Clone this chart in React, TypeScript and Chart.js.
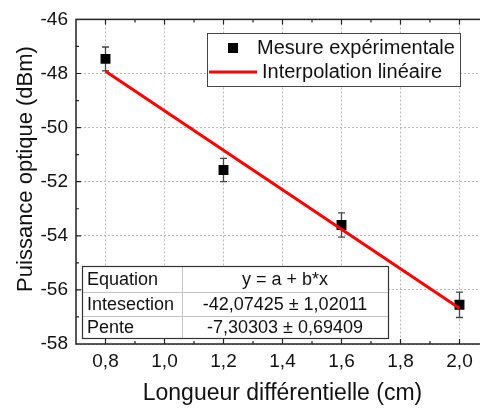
import React, { useEffect, useRef } from "react";
import { Chart, registerables } from "chart.js";
Chart.register(...registerables);

// ---- data ----
const xValues = [0.8, 1.2, 1.6, 2.0];
const yValues = [-47.46, -51.57, -53.6, -56.55];
const yErrors = [0.44, 0.43, 0.45, 0.47];
const fitX = [0.8, 2.0];
const fitY = [-47.92, -56.68];
const xTicks = [0.8, 1.0, 1.2, 1.4, 1.6, 1.8, 2.0];
const yTicks = [-58, -56, -54, -52, -50, -48, -46];
const seriesLabels = ["Mesure expérimentale", "Interpolation linéaire"];
const tableLabels = ["Equation", "Intesection", "Pente"];
const tableValues = ["y = a + b*x", "-42,07425 ± 1,02011", "-7,30303 ± 0,69409"];
const xTitle = "Longueur différentielle (cm)";
const yTitle = "Puissance optique (dBm)";

const FONT = '"Liberation Sans", Arial, sans-serif';
const TEXT = "#111";

const decor = {
  id: "decor",
  beforeDatasetsDraw(chart: any) {
    const { ctx } = chart;
    const xs = chart.scales.x;
    const ys = chart.scales.y;
    ctx.save();
    ctx.strokeStyle = "#444";
    ctx.lineWidth = 1.3;
    xValues.forEach((xv, i) => {
      const px = xs.getPixelForValue(xv);
      const top = ys.getPixelForValue(yValues[i] + yErrors[i]);
      const bot = ys.getPixelForValue(yValues[i] - yErrors[i]);
      ctx.beginPath();
      ctx.moveTo(px, top);
      ctx.lineTo(px, bot);
      ctx.moveTo(px - 3.5, top);
      ctx.lineTo(px + 3.5, top);
      ctx.moveTo(px - 3.5, bot);
      ctx.lineTo(px + 3.5, bot);
      ctx.stroke();
    });
    ctx.restore();
  },
  afterDraw(chart: any) {
    const { ctx, chartArea } = chart;
    const { left, right, top, bottom } = chartArea;
    const xs = chart.scales.x;
    const ys = chart.scales.y;
    ctx.save();
    // frame
    ctx.strokeStyle = "#222";
    ctx.lineWidth = 1.5;
    ctx.strokeRect(left, top, right - left, bottom - top);
    // inward ticks
    ctx.lineWidth = 1.2;
    ctx.beginPath();
    const xStep = xTicks[1] - xTicks[0];
    const xMaj = xTicks;
    const xMin: number[] = [];
    for (let i = 0; i < xTicks.length; i++) {
      xMin.push(xTicks[i] - xStep / 2);
      if (i === xTicks.length - 1) xMin.push(xTicks[i] + xStep / 2);
    }
    const yStep = yTicks[1] - yTicks[0];
    const yMin: number[] = [];
    for (let i = 0; i < yTicks.length - 1; i++) yMin.push(yTicks[i] + yStep / 2);
    const hx = (v: number, len: number) => {
      const px = xs.getPixelForValue(v);
      if (px <= left + 1 || px >= right - 1) return;
      ctx.moveTo(px, bottom);
      ctx.lineTo(px, bottom - len);
      ctx.moveTo(px, top);
      ctx.lineTo(px, top + len);
    };
    const hy = (v: number, len: number) => {
      const py = ys.getPixelForValue(v);
      if (py <= top + 1 || py >= bottom - 1) return;
      ctx.moveTo(left, py);
      ctx.lineTo(left + len, py);
      ctx.moveTo(right, py);
      ctx.lineTo(right - len, py);
    };
    xMaj.forEach((v) => hx(v, 5));
    xMin.forEach((v) => hx(v, 3));
    yTicks.forEach((v) => hy(v, 5));
    yMin.forEach((v) => hy(v, 3));
    ctx.stroke();

    // legend
    ctx.fillStyle = "#fff";
    ctx.fillRect(207, 33, 253, 53);
    ctx.strokeStyle = "#444";
    ctx.lineWidth = 1;
    ctx.strokeRect(207.5, 33.5, 253, 53);
    ctx.fillStyle = "#000";
    ctx.fillRect(228, 43, 10, 10);
    ctx.strokeStyle = "#ff0000";
    ctx.lineWidth = 3;
    ctx.beginPath();
    ctx.moveTo(209, 72);
    ctx.lineTo(257, 72);
    ctx.stroke();
    ctx.fillStyle = TEXT;
    ctx.font = `20px ${FONT}`;
    ctx.textBaseline = "middle";
    ctx.textAlign = "left";
    ctx.fillText(seriesLabels[0], 257, 48);
    ctx.fillText(seriesLabels[1], 262, 72);

    // table
    const tx0 = 82, tx1 = 182, tx2 = 388;
    const rows = [266, 292, 316, 338];
    ctx.fillStyle = "#fff";
    ctx.fillRect(tx0, rows[0], tx2 - tx0, rows[3] - rows[0]);
    ctx.strokeStyle = "#c4c4c4";
    ctx.lineWidth = 1;
    ctx.beginPath();
    ctx.moveTo(tx1 + 0.5, rows[0]);
    ctx.lineTo(tx1 + 0.5, rows[3]);
    ctx.moveTo(tx0, rows[1] + 0.5);
    ctx.lineTo(tx2, rows[1] + 0.5);
    ctx.moveTo(tx0, rows[2] + 0.5);
    ctx.lineTo(tx2, rows[2] + 0.5);
    ctx.stroke();
    ctx.strokeStyle = "#333";
    ctx.lineWidth = 1.2;
    ctx.strokeRect(tx0 + 0.5, rows[0] + 0.5, tx2 - tx0, rows[3] - rows[0]);
    ctx.fillStyle = TEXT;
    ctx.font = `18px ${FONT}`;
    for (let i = 0; i < 3; i++) {
      const cy = (rows[i] + rows[i + 1]) / 2 + 1;
      ctx.textAlign = "left";
      ctx.fillText(tableLabels[i], 87, cy);
      ctx.textAlign = "center";
      ctx.fillText(tableValues[i], (tx1 + tx2) / 2, cy);
    }

    // axis titles
    ctx.fillStyle = TEXT;
    ctx.textAlign = "center";
    ctx.textBaseline = "middle";
    ctx.font = `23px ${FONT}`;
    ctx.fillText(xTitle, (left + right) / 2, 394);
    ctx.save();
    ctx.translate(26, 169);
    ctx.rotate(-Math.PI / 2);
    ctx.font = `22px ${FONT}`;
    ctx.fillText(yTitle, 0, 0);
    ctx.restore();
    ctx.restore();
  },
};

export default function App() {
  const ref = useRef<HTMLCanvasElement | null>(null);
  useEffect(() => {
    if (!ref.current) return;
    const chart = new Chart(ref.current, {
      type: "scatter",
      data: {
        datasets: [
          {
            label: seriesLabels[1],
            data: fitX.map((x, i) => ({ x, y: fitY[i] })),
            showLine: true,
            borderColor: "#ff0000",
            backgroundColor: "#ff0000",
            borderWidth: 3,
            pointRadius: 0,
            order: 0,
          },
          {
            label: seriesLabels[0],
            data: xValues.map((x, i) => ({ x, y: yValues[i] })),
            pointStyle: "rect",
            pointRadius: 7,
            pointBackgroundColor: "#000",
            pointBorderWidth: 0,
            backgroundColor: "#000",
            borderColor: "#000",
            showLine: false,
            order: 1,
          },
        ],
      },
      options: {
        animation: false,
        responsive: false,
        devicePixelRatio: 1,
        layout: { padding: { top: 15, right: 11, left: 0, bottom: 0 } },
        plugins: { legend: { display: false }, tooltip: { enabled: false } },
        scales: {
          x: {
            type: "linear",
            min: 0.7,
            max: 2.1,
            afterBuildTicks: (s: any) => {
              s.ticks = xTicks.map((v) => ({ value: v }));
            },
            afterFit: (s: any) => {
              s.height = 66;
            },
            grid: { color: "#b8b8b8", lineWidth: 1, drawTicks: false },
            border: { display: false, dash: [2, 2] },
            ticks: {
              padding: 6,
              maxRotation: 0,
              color: TEXT,
              font: { family: FONT, size: 19 },
              callback: (v: any) => Number(v).toFixed(1).replace(".", ","),
            },
          },
          y: {
            type: "linear",
            min: -58,
            max: -46,
            afterBuildTicks: (s: any) => {
              s.ticks = yTicks.map((v) => ({ value: v }));
            },
            afterFit: (s: any) => {
              s.width = 76;
            },
            grid: { color: "#b8b8b8", lineWidth: 1, drawTicks: false },
            border: { display: false, dash: [2, 2] },
            ticks: {
              padding: 8,
              color: TEXT,
              font: { family: FONT, size: 19 },
              callback: (v: any) => String(v),
            },
          },
        },
      },
      plugins: [decor],
    });
    return () => chart.destroy();
  }, []);
  return (
    <div
      style={{
        position: "fixed",
        left: 0,
        top: 0,
        width: 480,
        height: 410,
        overflow: "hidden",
        background: "#fff",
      }}
    >
      <canvas ref={ref} width={500} height={410} style={{ width: 500, height: 410, display: "block" }} />
    </div>
  );
}
